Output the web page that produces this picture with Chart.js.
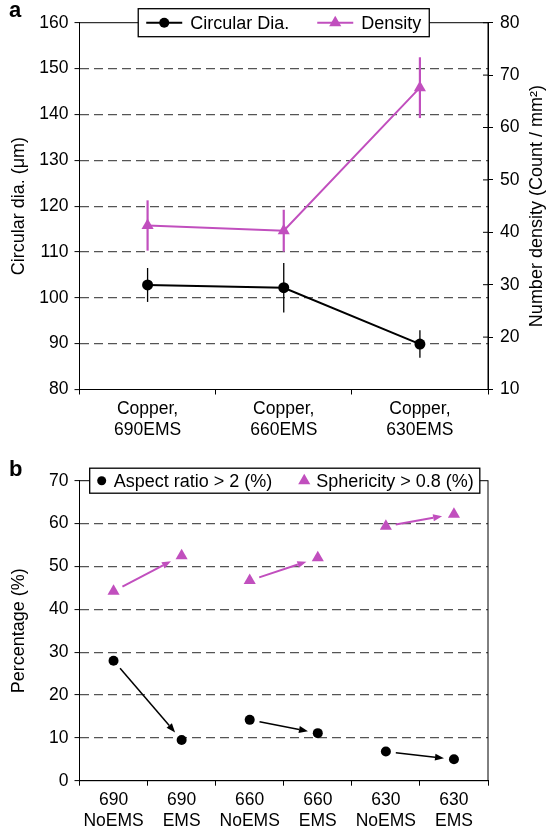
<!DOCTYPE html>
<html>
<head>
<meta charset="utf-8">
<script src="https://cdn.jsdelivr.net/npm/chart.js@4.4.0/dist/chart.umd.min.js"></script>
<style>
  html, body { margin: 0; padding: 0; background: #fff; }
  #wrap { position: relative; width: 549px; height: 834px; overflow: hidden; }
  #boxA { position: absolute; left: 0; top: 0; width: 549px; height: 445px; }
  #boxB { position: absolute; left: 0; top: 445px; width: 549px; height: 389px; }
  .tag { position: absolute; font: bold 22px "Liberation Sans", Arial, sans-serif; line-height: 22px; }
</style>
</head>
<body>
<div id="wrap">
  <div id="boxA"><canvas id="chartA" width="549" height="445"></canvas></div>
  <div id="boxB"><canvas id="chartB" width="549" height="389"></canvas></div>
  <div class="tag" style="left:9px; top:-1px;">a</div>
  <div class="tag" style="left:9px; top:458px;">b</div>
</div>
<script>
// ---- panel a data ----
const copperLabels = [['Copper,', '690EMS'], ['Copper,', '660EMS'], ['Copper,', '630EMS']];
const circularDia = [102.8, 102.2, 89.9];
const circularDiaErr = [3.7, 5.4, 3.0];
const density = [41.3, 40.3, 67.6];
const densityErr = [4.8, 4.0, 5.8];
const diaRange = [80, 160, 10];
const densityRange = [10, 80, 10];

// ---- panel b data ----
const emsLabels = [['690', 'NoEMS'], ['690', 'EMS'], ['660', 'NoEMS'], ['660', 'EMS'], ['630', 'NoEMS'], ['630', 'EMS']];
const aspectRatio = [28.0, 9.5, 14.2, 11.1, 6.8, 5.0];
const sphericity = [44.2, 52.5, 46.7, 52.0, 59.4, 62.2];
const pctRange = [0, 70, 10];
const arrowPairs = [[0, 1], [2, 3], [4, 5]];

const FONT = '"Liberation Sans", Arial, Helvetica, sans-serif';
const MAGENTA = '#c14fbe';
const GRID = '#555';

Chart.defaults.font.family = FONT;
Chart.defaults.font.size = 17.5;
Chart.defaults.color = '#000';
Chart.defaults.animation = false;

function gridColor(ctx) {
    const s = ctx.scale;
    if (ctx.tick && (ctx.tick.value === s.min || ctx.tick.value === s.max)) return 'rgba(0,0,0,0)';
    return GRID;
}

function drawMarker(ctx, style, x, y, r, color) {
    ctx.fillStyle = color;
    ctx.beginPath();
    if (style === 'triangle') {
        ctx.moveTo(x, y - r);
        ctx.lineTo(x + r * Math.sin(2 * Math.PI / 3), y + r / 2);
        ctx.lineTo(x - r * Math.sin(2 * Math.PI / 3), y + r / 2);
        ctx.closePath();
    } else {
        ctx.arc(x, y, r, 0, Math.PI * 2);
    }
    ctx.fill();
}

// box around the plot, plus the small inward ticks on the right axis
const framePlugin = {
    id: 'frame',
    beforeDatasetsDraw(chart, args, opts) {
        const { ctx, chartArea: a } = chart;
        ctx.save();
        ctx.strokeStyle = '#000';
        ctx.lineWidth = 1;
        ctx.strokeRect(a.left, a.top, a.right - a.left, a.bottom - a.top);
        if (opts.innerTicks && chart.scales[opts.innerTicks]) {
            const sc = chart.scales[opts.innerTicks];
            sc.ticks.forEach(t => {
                const y = sc.getPixelForValue(t.value);
                ctx.beginPath();
                ctx.moveTo(a.right - 5, y);
                ctx.lineTo(a.right, y);
                ctx.stroke();
            });
        }
        ctx.restore();
    }
};

const errorBarPlugin = {
    id: 'errorBars',
    beforeDatasetsDraw(chart, args, opts) {
        if (!opts.sets) return;
        const ctx = chart.ctx;
        opts.sets.forEach(set => {
            const meta = chart.getDatasetMeta(set.dataset);
            const ys = chart.scales[meta.yAxisID];
            const vals = chart.data.datasets[set.dataset].data;
            ctx.save();
            ctx.strokeStyle = set.color;
            ctx.lineWidth = set.width;
            meta.data.forEach((pt, j) => {
                ctx.beginPath();
                ctx.moveTo(pt.x, ys.getPixelForValue(vals[j] + set.errors[j]));
                ctx.lineTo(pt.x, ys.getPixelForValue(vals[j] - set.errors[j]));
                ctx.stroke();
            });
            ctx.restore();
        });
    }
};

const boxLegendPlugin = {
    id: 'boxLegend',
    afterDraw(chart, args, opts) {
        if (!opts.items) return;
        const { ctx, chartArea: a } = chart;
        ctx.save();
        ctx.font = opts.fontSize + 'px ' + FONT;
        const widths = opts.items.map(it => opts.sampleWidth + opts.textGap + ctx.measureText(it.text).width);
        const total = opts.padding * 2 + widths.reduce((s, w) => s + w, 0) + opts.itemGap * (opts.items.length - 1);
        const x0 = (a.left + a.right) / 2 - total / 2 + (opts.shiftX || 0);
        const my = a.top;
        ctx.fillStyle = '#fff';
        ctx.fillRect(x0, my - opts.height / 2, total, opts.height);
        ctx.strokeStyle = '#000';
        ctx.lineWidth = 1.3;
        ctx.strokeRect(x0, my - opts.height / 2, total, opts.height);
        let px = x0 + opts.padding;
        opts.items.forEach((it, k) => {
            if (it.line) {
                ctx.strokeStyle = it.color;
                ctx.lineWidth = 2;
                ctx.beginPath();
                ctx.moveTo(px, my);
                ctx.lineTo(px + opts.sampleWidth, my);
                ctx.stroke();
            }
            drawMarker(ctx, it.style, px + opts.sampleWidth / 2, my, it.radius, it.color);
            ctx.fillStyle = '#000';
            ctx.textBaseline = 'middle';
            ctx.textAlign = 'left';
            ctx.fillText(it.text, px + opts.sampleWidth + opts.textGap, my + 1);
            px += widths[k] + opts.itemGap;
        });
        ctx.restore();
    }
};

// right axis title reads bottom to top, like the left one
const sideTitlePlugin = {
    id: 'sideTitle',
    afterDraw(chart, args, opts) {
        if (!opts.text) return;
        const { ctx, chartArea: a } = chart;
        ctx.save();
        ctx.font = opts.fontSize + 'px ' + FONT;
        ctx.fillStyle = '#000';
        ctx.textAlign = 'center';
        ctx.textBaseline = 'middle';
        ctx.translate(opts.x, (a.top + a.bottom) / 2);
        ctx.rotate(-Math.PI / 2);
        ctx.fillText(opts.text, 0, 0);
        ctx.restore();
    }
};

const arrowPlugin = {
    id: 'pairArrows',
    afterDatasetsDraw(chart, args, opts) {
        if (!opts.sets) return;
        const ctx = chart.ctx;
        opts.sets.forEach(set => {
            const meta = chart.getDatasetMeta(set.dataset);
            set.pairs.forEach(([i, j]) => {
                const p = meta.data[i], q = meta.data[j];
                const dx = q.x - p.x, dy = q.y - p.y, len = Math.hypot(dx, dy);
                const ux = dx / len, uy = dy / len;
                const sx = p.x + ux * set.startGap, sy = p.y + uy * set.startGap;
                const ex = q.x - ux * set.endGap, ey = q.y - uy * set.endGap;
                const hx = ex - ux * set.headLen, hy = ey - uy * set.headLen;
                ctx.save();
                ctx.strokeStyle = set.color;
                ctx.lineWidth = set.width;
                ctx.beginPath();
                ctx.moveTo(sx, sy);
                ctx.lineTo(hx, hy);
                ctx.stroke();
                ctx.fillStyle = set.color;
                ctx.beginPath();
                ctx.moveTo(ex, ey);
                ctx.lineTo(hx - uy * set.headWidth / 2, hy + ux * set.headWidth / 2);
                ctx.lineTo(hx + uy * set.headWidth / 2, hy - ux * set.headWidth / 2);
                ctx.closePath();
                ctx.fill();
                ctx.restore();
            });
        });
    }
};

Chart.register(framePlugin, errorBarPlugin, boxLegendPlugin, sideTitlePlugin, arrowPlugin);

function yAxis(range, title, extra) {
    return Object.assign({
        type: 'linear',
        position: 'left',
        min: range[0],
        max: range[1],
        ticks: { stepSize: range[2], padding: 6 },
        grid: { color: gridColor, lineWidth: 1.2, tickColor: '#000', tickWidth: 1, tickLength: 5 },
        border: { color: '#000', width: 1, dash: [9, 5] },
        title: { display: true, text: title, font: { size: 18 }, padding: { top: 8, bottom: 0 } },
        afterFit(s) { s.width = 79.5; }
    }, extra || {});
}

function xAxis(height) {
    return {
        type: 'category',
        offset: true,
        grid: { offset: true, drawOnChartArea: false, tickLength: 5, tickColor: '#000', tickWidth: 1, color: '#000' },
        border: { color: '#000', width: 1 },
        ticks: { padding: 4, maxRotation: 0, autoSkip: false },
        afterFit(s) { s.height = height; }
    };
}

new Chart(document.getElementById('chartA'), {
    type: 'line',
    data: {
        labels: copperLabels,
        datasets: [
            {
                label: 'Circular Dia.',
                data: circularDia,
                yAxisID: 'y',
                borderColor: '#000',
                backgroundColor: '#000',
                borderWidth: 2,
                pointStyle: 'circle',
                pointRadius: 5.5,
                pointBorderWidth: 0,
                tension: 0
            },
            {
                label: 'Density',
                data: density,
                yAxisID: 'y1',
                borderColor: MAGENTA,
                backgroundColor: MAGENTA,
                borderWidth: 2,
                pointStyle: 'triangle',
                pointRadius: 7,
                pointBorderWidth: 0,
                tension: 0
            }
        ]
    },
    options: {
        responsive: false,
        layout: { padding: { top: 22.7, right: 0, left: 0, bottom: 0 } },
        scales: {
            x: xAxis(55.5),
            y: yAxis(diaRange, 'Circular dia. (μm)'),
            y1: {
                type: 'linear',
                position: 'right',
                min: densityRange[0],
                max: densityRange[1],
                ticks: { stepSize: densityRange[2], padding: 7 },
                grid: { drawOnChartArea: false, tickColor: '#000', tickWidth: 1, tickLength: 5 },
                border: { color: '#000', width: 1 },
                afterFit(s) { s.width = 61; }
            }
        },
        plugins: {
            legend: { display: false },
            tooltip: { enabled: false },
            frame: { innerTicks: 'y1' },
            errorBars: {
                sets: [
                    { dataset: 0, errors: circularDiaErr, color: '#000', width: 1.3 },
                    { dataset: 1, errors: densityErr, color: MAGENTA, width: 2.2 }
                ]
            },
            boxLegend: {
                fontSize: 18, padding: 8, sampleWidth: 36, textGap: 8, itemGap: 28, height: 28,
                items: [
                    { text: 'Circular Dia.', color: '#000', style: 'circle', radius: 5, line: true },
                    { text: 'Density', color: MAGENTA, style: 'triangle', radius: 7, line: true }
                ]
            },
            sideTitle: { text: 'Number density (Count / mm²)', fontSize: 18, x: 537.5 }
        }
    }
});

new Chart(document.getElementById('chartB'), {
    type: 'line',
    data: {
        labels: emsLabels,
        datasets: [
            {
                label: 'Aspect ratio > 2 (%)',
                data: aspectRatio,
                showLine: false,
                borderColor: '#000',
                backgroundColor: '#000',
                pointStyle: 'circle',
                pointRadius: 5,
                pointBorderWidth: 0
            },
            {
                label: 'Sphericity > 0.8 (%)',
                data: sphericity,
                showLine: false,
                borderColor: MAGENTA,
                backgroundColor: MAGENTA,
                pointStyle: 'triangle',
                pointRadius: 7,
                pointBorderWidth: 0
            }
        ]
    },
    options: {
        responsive: false,
        layout: { padding: { top: 35.7, right: 61, left: 0, bottom: 0 } },
        scales: {
            x: xAxis(53.3),
            y: yAxis(pctRange, 'Percentage (%)')
        },
        plugins: {
            legend: { display: false },
            tooltip: { enabled: false },
            frame: {},
            pairArrows: {
                sets: [
                    { dataset: 0, pairs: arrowPairs, color: '#000', width: 1.5, startGap: 10, endGap: 10, headLen: 9, headWidth: 7 },
                    { dataset: 1, pairs: arrowPairs, color: MAGENTA, width: 2, startGap: 10, endGap: 12, headLen: 9, headWidth: 7 }
                ]
            },
            boxLegend: {
                fontSize: 18, padding: 6, sampleWidth: 12, textGap: 6, itemGap: 26, height: 25, shiftX: 1,
                items: [
                    { text: 'Aspect ratio > 2 (%)', color: '#000', style: 'circle', radius: 4.5, line: false },
                    { text: 'Sphericity > 0.8 (%)', color: MAGENTA, style: 'triangle', radius: 7, line: false }
                ]
            }
        }
    }
});
</script>
</body>
</html>
